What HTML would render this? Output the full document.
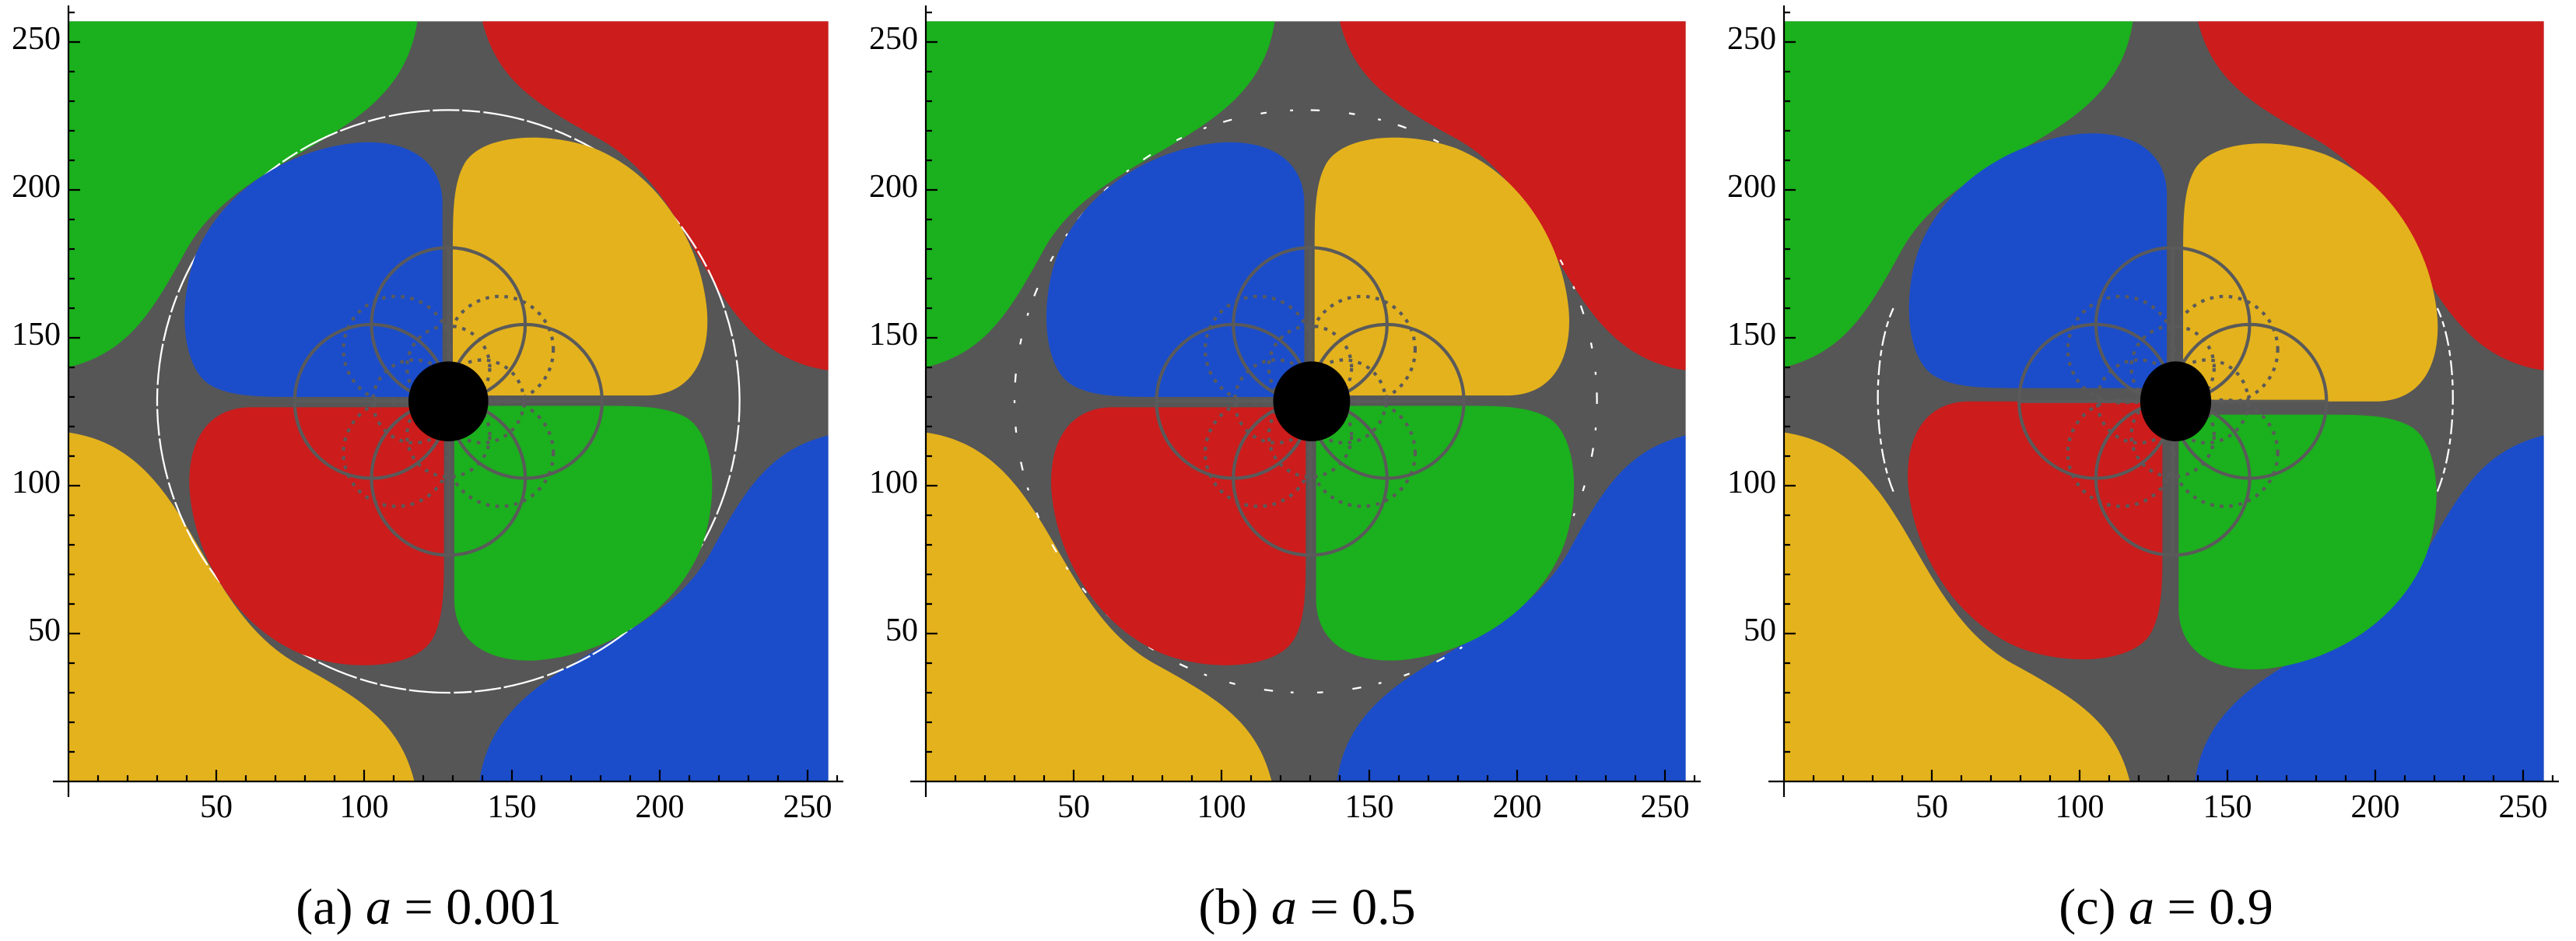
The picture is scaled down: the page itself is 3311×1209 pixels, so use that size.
<!DOCTYPE html>
<html><head><meta charset="utf-8"><style>
html,body{margin:0;padding:0;background:#fff;}
svg{display:block;}
.t{font-family:"Liberation Serif","DejaVu Serif","Times New Roman",serif;}
</style></head><body>
<svg width="3311" height="1209" viewBox="0 0 3311 1209" xmlns="http://www.w3.org/2000/svg">
<defs>
  <path id="corner" d="M0,257 L118,257 C112,215 60,215 40,180 C28,158 20,145 0,140 Z"/>
  <path id="lobe" d="M126.5,130 L126.5,196 C126,212 112,217 98,216 C75,214 52,200 43,178 C37,162 38,140 48,134 C55,130 65,130 78,130 Z"/>
  <g id="corners">
    <use href="#corner" fill="#1bb01d"/>
    <use href="#corner" fill="#cc1c1c" transform="rotate(-90 128.5 128.5)"/>
    <use href="#corner" fill="#1b4dcb" transform="rotate(-180 128.5 128.5)"/>
    <use href="#corner" fill="#e4b21d" transform="rotate(90 128.5 128.5)"/>
  </g>
  <g id="lobes">
    <use href="#lobe" fill="#1b4dcb"/>
    <use href="#lobe" fill="#e4b21d" transform="rotate(-90 128.5 128.5)"/>
    <use href="#lobe" fill="#1bb01d" transform="rotate(-180 128.5 128.5)"/>
    <use href="#lobe" fill="#cc1c1c" transform="rotate(90 128.5 128.5)"/>
  </g>
  <g id="center" fill="none" stroke="#5a5a5a" stroke-width="1.1">
    <path d="M76.5,128.5 H180.5 M128.5,76.5 V180.5"/>
    <circle cx="128.5" cy="154.5" r="26"/>
    <circle cx="128.5" cy="102.5" r="26"/>
    <circle cx="102.5" cy="128.5" r="26"/>
    <circle cx="154.5" cy="128.5" r="26"/>
    <g stroke-dasharray="1.2 2">
    <circle cx="146" cy="146" r="18"/>
    <circle cx="111" cy="146" r="18"/>
    <circle cx="111" cy="111" r="18"/>
    <circle cx="146" cy="111" r="18"/>
    <circle cx="128.5" cy="140" r="14"/>
    <circle cx="128.5" cy="117" r="14"/>
    <circle cx="117" cy="128.5" r="14"/>
    <circle cx="140" cy="128.5" r="14"/>
    </g>
  </g>
  <g id="axes" stroke="#000" stroke-width="2.2" fill="none">
    <path d="M0,20 V-997 M-20,0 H996"/>
    <path d="M0,-38h8M0,-76h8M0,-114h8M0,-152h8M0,-190h15M0,-228h8M0,-266h8M0,-304h8M0,-342h8M0,-380h15M0,-418h8M0,-456h8M0,-494h8M0,-532h8M0,-570h15M0,-608h8M0,-646h8M0,-684h8M0,-722h8M0,-760h15M0,-798h8M0,-836h8M0,-874h8M0,-912h8M0,-950h15M0,-988h8"/>
    <path d="M38,0v-8M76,0v-8M114,0v-8M152,0v-8M190,0v-15M228,0v-8M266,0v-8M304,0v-8M342,0v-8M380,0v-15M418,0v-8M456,0v-8M494,0v-8M532,0v-8M570,0v-15M608,0v-8M646,0v-8M684,0v-8M722,0v-8M760,0v-15M798,0v-8M836,0v-8M874,0v-8M912,0v-8M950,0v-15M988,0v-8"/>
  </g>
</defs>

<!-- Panel a -->
<g transform="translate(88,1004) scale(3.8,-3.8)">
  <rect x="0" y="0" width="257" height="257" fill="#565656"/>
  <use href="#corners"/>
  <circle cx="128.5" cy="128.5" r="98.5" fill="none" stroke="#fff" stroke-width="0.6" stroke-dasharray="14 1.2 6 1 9 1"/>
  <use href="#lobes"/>
  <use href="#center"/>
  <circle cx="128.5" cy="128.5" r="13.5" fill="#000"/>
</g>
<use href="#axes" transform="translate(88,1004)"/>

<!-- Panel b -->
<g transform="translate(1190,1004) scale(3.8,-3.8)">
  <rect x="0" y="0" width="257" height="257" fill="#565656"/>
  <use href="#corners"/>
  <circle cx="128.5" cy="128.5" r="98.5" fill="none" stroke="#fff" stroke-width="0.6" stroke-dasharray="3 6 1 8 2 10"/>
  <g transform="translate(1.5,0)"><use href="#lobes"/><use href="#center"/></g>
  <ellipse cx="130.5" cy="128.5" rx="13" ry="13.5" fill="#000"/>
</g>
<use href="#axes" transform="translate(1190,1004)"/>

<!-- Panel c -->
<g transform="translate(2293,1004) scale(3.8,-3.8)">
  <rect x="0" y="0" width="257" height="257" fill="#565656"/>
  <use href="#corners"/>
  <path d="M37,98 C30,115 30,145 37,160 M221,98 C228,115 228,145 221,160" fill="none" stroke="#fff" stroke-width="0.6" stroke-dasharray="5 1.5 2 1.5"/>
  <g transform="translate(3,0)">
    <use href="#lobe" fill="#1b4dcb" transform="translate(0,3)"/>
    <use href="#lobe" fill="#e4b21d" transform="translate(2,-2) rotate(-90 128.5 128.5)"/>
    <use href="#lobe" fill="#1bb01d" transform="translate(0,-3) rotate(-180 128.5 128.5)"/>
    <use href="#lobe" fill="#cc1c1c" transform="translate(-2,2) rotate(90 128.5 128.5)"/>
    <use href="#center"/>
  </g>
  <ellipse cx="132.5" cy="128.5" rx="12" ry="13.5" fill="#000"/>
</g>
<use href="#axes" transform="translate(2293,1004)"/>

<!-- tick labels -->
<g class="t" font-size="42" text-anchor="end" fill="#000">
  <text class="t" x="78" y="63">250</text><text class="t" x="78" y="253">200</text><text class="t" x="78" y="443">150</text><text class="t" x="78" y="633">100</text><text class="t" x="78" y="823">50</text>
  <text class="t" x="1180" y="63">250</text><text class="t" x="1180" y="253">200</text><text class="t" x="1180" y="443">150</text><text class="t" x="1180" y="633">100</text><text class="t" x="1180" y="823">50</text>
  <text class="t" x="2283" y="63">250</text><text class="t" x="2283" y="253">200</text><text class="t" x="2283" y="443">150</text><text class="t" x="2283" y="633">100</text><text class="t" x="2283" y="823">50</text>
</g>
<g class="t" font-size="42" text-anchor="middle" fill="#000">
  <text class="t" x="278" y="1050">50</text><text class="t" x="468" y="1050">100</text><text class="t" x="658" y="1050">150</text><text class="t" x="848" y="1050">200</text><text class="t" x="1038" y="1050">250</text>
  <text class="t" x="1380" y="1050">50</text><text class="t" x="1570" y="1050">100</text><text class="t" x="1760" y="1050">150</text><text class="t" x="1950" y="1050">200</text><text class="t" x="2140" y="1050">250</text>
  <text class="t" x="2483" y="1050">50</text><text class="t" x="2673" y="1050">100</text><text class="t" x="2863" y="1050">150</text><text class="t" x="3053" y="1050">200</text><text class="t" x="3243" y="1050">250</text>
</g>
<!-- captions -->
<g class="t" font-size="66" text-anchor="middle" fill="#000">
  <text class="t" x="551" y="1187">(a)  <tspan font-style="italic">a</tspan> = 0.001</text>
  <text class="t" x="1680" y="1187">(b)  <tspan font-style="italic">a</tspan> = 0.5</text>
  <text class="t" x="2784" y="1187">(c)  <tspan font-style="italic">a</tspan> = 0.9</text>
</g>
</svg>
</body></html>
